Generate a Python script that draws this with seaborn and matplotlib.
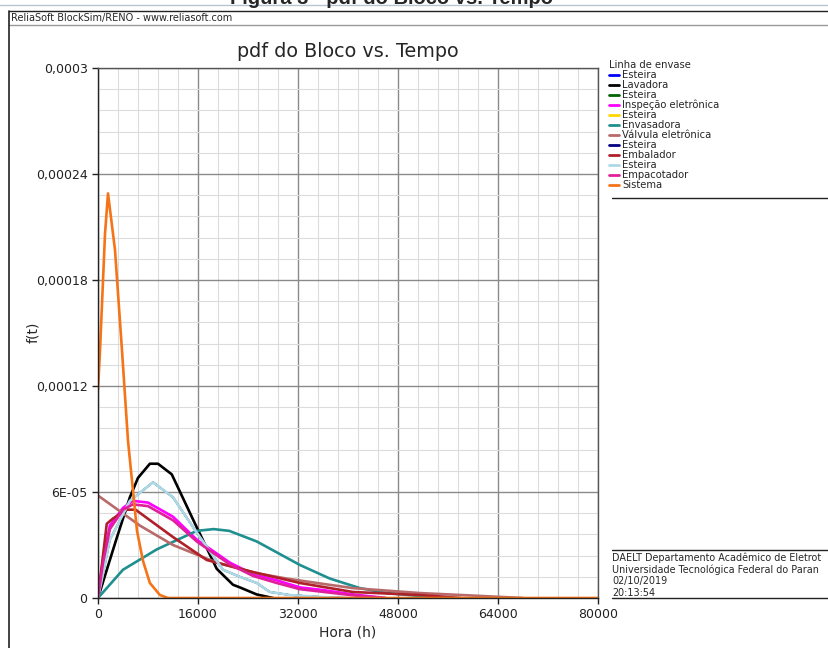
import numpy as np
import pandas as pd
import matplotlib
matplotlib.use("Agg")
import matplotlib.pyplot as plt
import seaborn as sns
from matplotlib.lines import Line2D
from matplotlib.ticker import MultipleLocator, FixedLocator, FixedFormatter

# values (hours, f(t))
esteira_x = [0, 1900, 5100, 8800, 12000, 15800, 20000, 22700, 25400, 27500, 30700, 36000, 40000]
esteira_y = [0, 3.3e-5, 5.5e-5, 6.55e-5, 5.7e-5, 3.7e-5, 1.6e-5, 1.2e-5, 8.5e-6, 3.4e-6, 1.7e-6, 5e-7, 0]

lavadora_x = [0, 3000, 5100, 6400, 8300, 9600, 11800, 15800, 19000, 21600, 22700, 25400, 28000]
lavadora_y = [0, 3.4e-5, 5.7e-5, 6.8e-5, 7.6e-5, 7.6e-5, 7.0e-5, 4.0e-5, 1.65e-5, 7.5e-6, 6e-6, 2e-6, 0]

inspecao_x = [0, 800, 1900, 4000, 5600, 8000, 12000, 15800, 21100, 24800, 28600, 32300, 36000, 40800, 46000]
inspecao_y = [0, 2.2e-5, 4.1e-5, 5.1e-5, 5.5e-5, 5.4e-5, 4.6e-5, 3.3e-5, 2.0e-5, 1.35e-5, 1.0e-5, 6e-6, 4.5e-6, 2e-6, 0]

envasadora_x = [0, 4000, 9400, 15800, 18500, 21000, 25400, 32300, 37100, 41900, 46200, 51500, 56000]
envasadora_y = [0, 1.6e-5, 2.75e-5, 3.8e-5, 3.9e-5, 3.8e-5, 3.2e-5, 1.87e-5, 1.1e-5, 5.6e-6, 2.8e-6, 1.1e-6, 0]

valvula_x = [0, 6700, 12000, 19000, 25400, 30200, 36000, 40800, 51500, 61000, 68000]
valvula_y = [5.8e-5, 4.1e-5, 3.0e-5, 2.0e-5, 1.4e-5, 1.1e-5, 8e-6, 5.6e-6, 2.8e-6, 1.2e-6, 0]

embalador_x = [0, 1400, 2400, 4600, 6000, 12000, 17400, 24800, 32300, 40800, 51500, 58000]
embalador_y = [0, 4.2e-5, 4.5e-5, 5.0e-5, 5.0e-5, 3.45e-5, 2.15e-5, 1.47e-5, 8.5e-6, 3.4e-6, 1.7e-6, 0]

empacotador_x = [0, 800, 1900, 4000, 5600, 8000, 12000, 15800, 21100, 24800, 28600, 32300, 40800, 46000]
empacotador_y = [0, 2.0e-5, 3.9e-5, 5.0e-5, 5.3e-5, 5.2e-5, 4.4e-5, 3.2e-5, 1.9e-5, 1.25e-5, 8.5e-6, 5e-6, 1.5e-6, 0]

sistema_x = [0, 320, 1120, 1600, 2720, 3840, 4800, 6240, 7200, 8300, 9900, 11200, 80000]
sistema_y = [1.18e-4, 1.4e-4, 2.06e-4, 2.29e-4, 1.97e-4, 1.4e-4, 8.9e-5, 3.8e-5, 2.1e-5, 8.5e-6, 1.7e-6, 0, 0]

series_names = ["Esteira", "Lavadora", "Esteira", "Inspeção eletrônica", "Esteira",
                "Envasadora", "Válvula eletrônica", "Esteira", "Embalador", "Esteira",
                "Empacotador", "Sistema"]
series_colors = ["#0000ff", "#000000", "#006400", "#ff00ff", "#ffd700",
                 "#1f8f8f", "#b86a6a", "#000080", "#b0202a", "#add8e6",
                 "#e0209a", "#f57418"]
series_data = [(esteira_x, esteira_y), (lavadora_x, lavadora_y), (esteira_x, esteira_y),
               (inspecao_x, inspecao_y), (esteira_x, esteira_y), (envasadora_x, envasadora_y),
               (valvula_x, valvula_y), (esteira_x, esteira_y), (embalador_x, embalador_y),
               (esteira_x, esteira_y), (empacotador_x, empacotador_y), (sistema_x, sistema_y)]

x_ticks = [0, 16000, 32000, 48000, 64000, 80000]
y_ticks = [0, 6e-5, 1.2e-4, 1.8e-4, 2.4e-4, 3e-4]
y_tick_labels = ["0", "6E-05", "0,00012", "0,00018", "0,00024", "0,0003"]

sns.set_style("white")
plt.rcParams["font.family"] = ["DejaVu Sans"]

W, H = 829, 648
fig = plt.figure(figsize=(W / 100, H / 100), dpi=100)
ax = fig.add_axes([98 / W, 50 / H, 500 / W, 530 / H])

for (xs, ys), name, col in zip(series_data, series_names, series_colors):
    # the early "Esteira" curves sit under the last (light blue) one
    lw = 1.2 if (name == "Esteira" and col != "#add8e6") else 1.9
    sns.lineplot(x=xs, y=ys, color=col, linewidth=lw, label=name, ax=ax, legend=False)

ax.set_xlim(0, 80000)
ax.set_ylim(0, 3e-4)
ax.xaxis.set_major_locator(FixedLocator(x_ticks))
ax.xaxis.set_minor_locator(MultipleLocator(3200))
ax.yaxis.set_major_locator(FixedLocator(y_ticks))
ax.yaxis.set_major_formatter(FixedFormatter(y_tick_labels))
ax.yaxis.set_minor_locator(MultipleLocator(1.2e-5))
ax.grid(which="major", color="#8a8a8a", linewidth=1.0)
ax.grid(which="minor", color="#dcdcdc", linewidth=0.8)
ax.set_axisbelow(True)
for s in ax.spines.values():
    s.set_color("#555555")
    s.set_linewidth(1.0)
ax.spines["left"].set_color("#222222")
ax.spines["bottom"].set_color("#222222")
ax.tick_params(which="major", direction="out", length=4, width=1, labelsize=9, colors="#222222",
               left=True, bottom=True)
ax.tick_params(which="minor", length=0)

ax.set_title("pdf do Bloco vs. Tempo", fontsize=13.8, pad=8)
fig.text(348 / W, 1 - 632 / H, "Hora (h)", fontsize=10, ha="center", va="center")
fig.text(33 / W, 1 - 332 / H, "f(t)", fontsize=10, ha="center", va="center", rotation=90)

# legend block on the right
handles = [Line2D([0], [0], color=c, linewidth=2) for c in series_colors]
leg = fig.legend(handles, series_names, title="Linha de envase", loc="upper left",
                 bbox_to_anchor=(609 / W, 1 - 60 / H), frameon=False, fontsize=7.2,
                 title_fontsize=7.2, handlelength=1.0, handletextpad=0.3, labelspacing=0.0,
                 borderpad=0, borderaxespad=0)
leg._legend_box.align = "left"


def hline(y_px, x0_px, x1_px, color="#222222", lw=1.0):
    fig.add_artist(Line2D([x0_px / W, x1_px / W], [1 - y_px / H, 1 - y_px / H],
                          color=color, linewidth=lw))


hline(198, 612, W)
hline(550, 612, W)
hline(598, 612, W)
info = ["DAELT Departamento Acadêmico de Eletrot",
        "Universidade Tecnológica Federal do Paran",
        "02/10/2019",
        "20:13:54"]
for i, t in enumerate(info):
    fig.text(612 / W, 1 - (558 + i * 11.5) / H, t, fontsize=6.9, va="center", ha="left")

# window frame and header (the page caption above is cut off in the source image)
hline(5, 0, W, color="#b8c4d0")
hline(11, 9, W)
hline(25, 9, W, color="#999999")
fig.add_artist(Line2D([9 / W, 9 / W], [0, 1 - 11 / H], color="#222222", linewidth=1.2))
fig.text(11 / W, 1 - 18 / H, "ReliaSoft BlockSim/RENO - www.reliasoft.com",
         fontsize=7, va="center", ha="left")
fig.text(392 / W, 1 - 4 / H, "Figura 3 - pdf do Bloco vs. Tempo", fontsize=14.5,
         fontweight="bold", va="baseline", ha="center", family=["Liberation Sans", "DejaVu Sans"])

fig.savefig("out.png", dpi=100)
